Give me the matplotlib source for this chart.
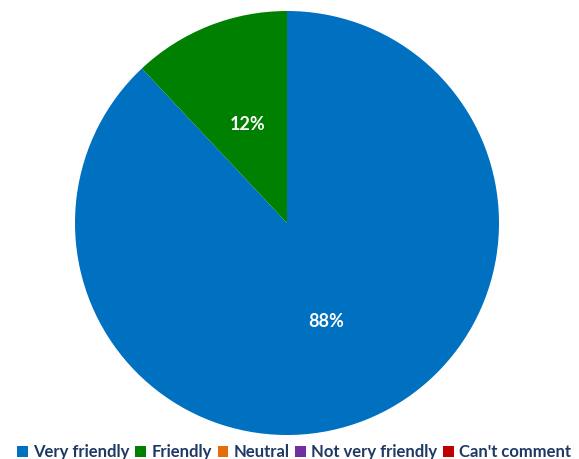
import matplotlib
matplotlib.use("Agg")
import matplotlib.pyplot as plt

categories = ["Very friendly", "Friendly", "Neutral", "Not very friendly", "Can't comment"]
values = [88, 12, 0, 0, 0]
colors = ["#0070C0", "#008000", "#E46C0A", "#7030A0", "#C00000"]

plt.rcParams['font.family'] = ['Lato', 'DejaVu Sans']

fig = plt.figure(figsize=(5.79, 4.59), dpi=100)
r = 212
cx, cy = 287, 223
ax = fig.add_axes([(cx - r) / 579, (459 - cy - r) / 459, 2 * r / 579, 2 * r / 459])

def pct(p):
    return '%d%%' % round(p) if p > 0 else ''

wedges, texts, autotexts = ax.pie(values, colors=colors, startangle=90, counterclock=False,
                                  autopct=pct, pctdistance=0.5, radius=1.0,
                                  textprops=dict(color='white', fontsize=13, fontweight='bold'))
ax.set_xlim(-1, 1)
ax.set_ylim(-1, 1)
ax.set_aspect('equal')

leg = fig.legend(wedges, categories, loc='lower center', bbox_to_anchor=(0.508, -0.035), ncol=5,
                 frameon=False, handlelength=0.65, handleheight=0.65, handletextpad=0.3,
                 columnspacing=0.35, prop=dict(size=12, weight='bold'))
for t in leg.get_texts():
    t.set_color('#1F3864')

fig.savefig("out.png", dpi=100)
